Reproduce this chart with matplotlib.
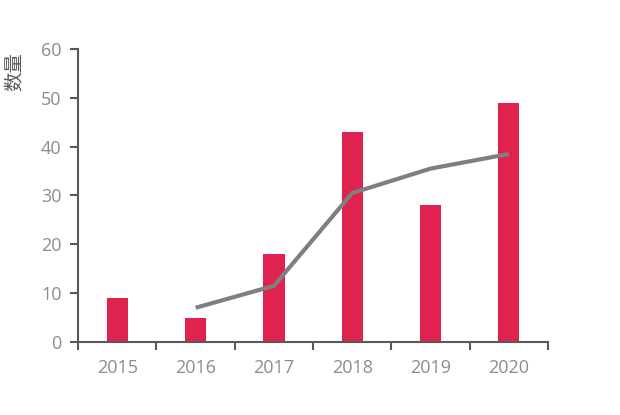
import matplotlib
matplotlib.use('Agg')
import matplotlib.pyplot as plt

# data
years = ['2015', '2016', '2017', '2018', '2019', '2020']
counts = [9, 5, 18, 43, 28, 49]
trend_years = ['2016', '2017', '2018', '2019', '2020']
trend = [7, 11.5, 30.5, 35.5, 38.5]

plt.rcParams['font.family'] = ['Open Sans', 'Noto Sans CJK SC', 'DejaVu Sans']

fig = plt.figure(figsize=(6.2, 4.15), dpi=100)
ax = fig.add_axes([0.126, 0.176, 0.758, 0.706])

x = list(range(len(years)))
ax.bar(x, counts, width=0.27, color='#E0234E', zorder=2)
tx = [years.index(y) for y in trend_years]
ax.plot(tx, trend, color='#7F7F7F', lw=3, solid_capstyle='butt', zorder=3)

ax.set_xlim(-0.5, len(years) - 0.5)
ax.set_ylim(0, 60)
ax.set_yticks(range(0, 61, 10))
ax.set_xticks(x)
ax.set_xticklabels(years)
ax.set_xticks([i - 0.5 for i in range(len(years) + 1)], minor=True)
ax.tick_params(axis='x', which='major', length=0, pad=12)
ax.tick_params(axis='x', which='minor', length=6, width=1.5, color='#595959')
ax.tick_params(axis='y', length=6, width=1.5, color='#595959', pad=6)
ax.tick_params(labelsize=13, labelcolor='#8C8C8C')

for s in ['top', 'right']:
    ax.spines[s].set_visible(False)
for s in ['left', 'bottom']:
    ax.spines[s].set_color('#595959')
    ax.spines[s].set_linewidth(1.5)

fig.text(0.025, 0.875, '数量', rotation=90, ha='center', va='top',
         fontsize=14, color='#595959', family=['Noto Sans CJK SC', 'DejaVu Sans'])

fig.savefig('out.png', dpi=100)
